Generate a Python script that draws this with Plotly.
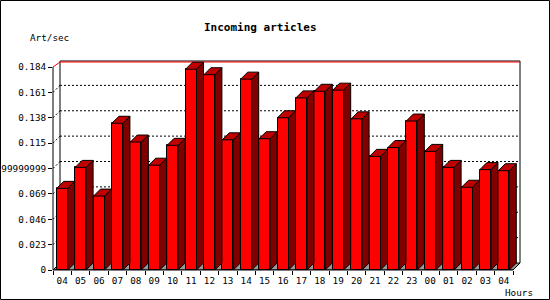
import plotly.graph_objects as go

# ---- data ----
hours = ["04", "05", "06", "07", "08", "09", "10", "11", "12", "13", "14", "15",
         "16", "17", "18", "19", "20", "21", "22", "23", "00", "01", "02", "03", "04"]
art_per_sec = [0.074, 0.093, 0.067, 0.133, 0.116, 0.095, 0.113, 0.182, 0.177,
               0.118, 0.173, 0.119, 0.138, 0.156, 0.162, 0.163, 0.137, 0.103,
               0.111, 0.135, 0.1075, 0.093, 0.075, 0.091, 0.090]
y_tickvals = [0, 0.023, 0.046, 0.069, 0.092, 0.115, 0.138, 0.161, 0.184]
y_ticktext = ["0", "0.023", "0.046", "0.069", "0.09199999999", "0.115", "0.138", "0.161", "0.184"]
title_text = "Incoming articles"
y_title = "Art/sec"
x_title = "Hours"

# ---- layout geometry (pixels) ----
W, H = 550, 300
L, T = 53, 61
PLOT_R, PLOT_B = 520, 270
PW, PH = PLOT_R - L, PLOT_B - T
N = len(hours)
Y_MAX = y_tickvals[-1]
PX_Y = Y_MAX / 203.0          # data units per pixel (y)
SLOT = 18.4                    # pixels per category
DEPTH = 7.0
DX = DEPTH / SLOT
DY = DEPTH * PX_Y
X_END = N + DX
Y_TOP = PH * PX_Y
BAR_W = 11.0 / SLOT


def px_x(p):
    return (p - L) / PW


def px_y(p):
    return (PLOT_B - p) / PH


FONT = "DejaVu Sans Mono"
fig = go.Figure()

# front faces
xc = [i + 0.5 for i in range(N)]
fig.add_trace(go.Bar(x=xc, y=art_per_sec, width=BAR_W, base=0,
                     marker=dict(color="#ff0000", line=dict(color="black", width=1)),
                     hoverinfo="skip", showlegend=False))

# side and top faces
sx, sy, tx, ty = [], [], [], []
for c, v in zip(xc, art_per_sec):
    xl, xr = c - BAR_W / 2, c + BAR_W / 2
    sx += [xr, xr, xr + DX, xr + DX, xr, None]
    sy += [0, v, v + DY, DY, 0, None]
    tx += [xl, xr, xr + DX, xl + DX, xl, None]
    ty += [v, v, v + DY, v + DY, v, None]
fig.add_trace(go.Scatter(x=sx, y=sy, mode="lines", fill="toself", fillcolor="#800000",
                         line=dict(color="black", width=1), hoverinfo="skip", showlegend=False))
fig.add_trace(go.Scatter(x=tx, y=ty, mode="lines", fill="toself", fillcolor="#c00000",
                         line=dict(color="black", width=1), hoverinfo="skip", showlegend=False))
# dummy trace for tick axis
fig.add_trace(go.Scatter(x=[0], y=[0], xaxis="x2", mode="markers", marker=dict(opacity=0),
                         hoverinfo="skip", showlegend=False))

shapes = []
# floor
shapes.append(dict(type="path", xref="x", yref="y", layer="below",
                   path=f"M 0,0 L {N},0 L {X_END},{DY} L {DX},{DY} Z",
                   fillcolor="#999999", line=dict(color="black", width=1)))
# gridlines
for v in y_tickvals[1:-1]:
    shapes.append(dict(type="line", xref="x", yref="y", layer="below",
                       x0=DX, x1=X_END, y0=v + DY, y1=v + DY,
                       line=dict(color="black", width=1, dash="2px,2px")))
    shapes.append(dict(type="line", xref="x", yref="y", layer="below",
                       x0=0, x1=DX, y0=v, y1=v + DY,
                       line=dict(color="black", width=1, dash="2px,2px")))
# back wall edges
shapes.append(dict(type="line", xref="x", yref="y", layer="below",
                   x0=DX, x1=DX, y0=DY, y1=Y_TOP, line=dict(color="black", width=1)))
shapes.append(dict(type="line", xref="paper", yref="y", layer="below",
                   x0=1, x1=1, y0=DY, y1=Y_TOP, line=dict(color="black", width=1)))
shapes.append(dict(type="line", xref="x", yref="paper", layer="below",
                   x0=DX, x1=X_END, y0=1, y1=1, line=dict(color="black", width=1)))
# red max line
rl = Y_MAX + 5 * PX_Y
shapes.append(dict(type="path", xref="x", yref="y", layer="below",
                   path=f"M 0,{Y_MAX} L {DX},{rl} L {X_END},{rl}",
                   line=dict(color="#ff0000", width=1)))
# axes lines
shapes.append(dict(type="line", xref="paper", yref="y", x0=0, x1=0, y0=0, y1=Y_MAX,
                   line=dict(color="black", width=1)))
shapes.append(dict(type="line", xref="x", yref="paper", x0=0, x1=N, y0=0, y1=0,
                   line=dict(color="black", width=1)))
shapes.append(dict(type="line", xref="x", yref="y", x0=N, x1=X_END, y0=0, y1=DY,
                   line=dict(color="black", width=1)))
# outer border
shapes.append(dict(type="rect", xref="paper", yref="paper",
                   x0=px_x(0.5), x1=px_x(549.5), y0=px_y(299.5), y1=px_y(0.5),
                   line=dict(color="black", width=1)))

annotations = [
    dict(text=f"<b>{title_text}</b>", xref="paper", yref="paper", x=px_x(260), y=px_y(27),
         xanchor="center", yanchor="middle", showarrow=False,
         font=dict(family=FONT, size=11, color="black")),
    dict(text=y_title, xref="paper", yref="paper", x=px_x(28), y=px_y(37),
         xanchor="left", yanchor="middle", showarrow=False,
         font=dict(family=FONT, size=9.3, color="black")),
    dict(text=x_title, xref="paper", yref="paper", x=px_x(519), y=px_y(292.5),
         xanchor="center", yanchor="middle", showarrow=False,
         font=dict(family=FONT, size=9.3, color="black")),
]

fig.update_layout(
    width=W, height=H,
    margin=dict(l=L, r=W - PLOT_R, t=T, b=H - PLOT_B, pad=0, autoexpand=False),
    paper_bgcolor="white", plot_bgcolor="white",
    showlegend=False, bargap=0,
    shapes=shapes, annotations=annotations,
    xaxis=dict(range=[0, X_END], tickvals=xc, ticktext=hours, ticks="",
               ticklabelstandoff=4,
               showgrid=False, zeroline=False, showline=False, automargin=False,
               tickfont=dict(family=FONT, size=9.3, color="black"), fixedrange=True),
    xaxis2=dict(range=[0, X_END], overlaying="x", anchor="y", side="bottom",
                tickvals=list(range(N + 1)), ticks="outside", ticklen=4, tickcolor="black",
                showticklabels=False, showgrid=False, zeroline=False, showline=False,
                automargin=False),
    yaxis=dict(range=[0, Y_TOP], tickvals=y_tickvals, ticktext=y_ticktext,
               ticks="outside", ticklen=4, tickcolor="black", automargin=False,
               showgrid=False, zeroline=False, showline=False,
               tickfont=dict(family=FONT, size=9.3, color="black")),
)

fig.write_html("out.html")
